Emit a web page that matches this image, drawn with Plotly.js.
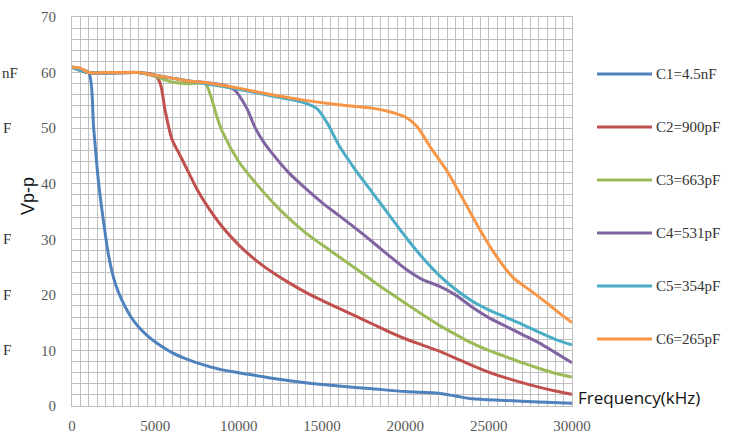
<!DOCTYPE html>
<html><head><meta charset="utf-8">
<script src="https://cdn.plot.ly/plotly-3.0.1.min.js"></script>
<style>html,body{margin:0;padding:0;background:#fff}</style>
</head><body><div id="chart" style="width:737px;height:434px"></div>
<script>
// ---- data ----
const seriesNames = ["C1=4.5nF", "C2=900pF", "C3=663pF", "C4=531pF", "C5=354pF", "C6=265pF"];
const seriesColors = ["#4F81BD", "#C0504D", "#9BBB59", "#8064A2", "#4BACC6", "#F79646"];

const c1x = [0, 500, 1000, 1300, 1600, 1900, 2200, 2600, 3000, 3500, 4000, 4500, 5000, 6000, 7000, 8000, 9000, 10000, 12000, 14000, 16000, 18000, 20000, 22000, 23000, 24000, 26000, 28000, 30000];
const c1y = [61, 60.5, 60, 50, 40, 33, 27, 22, 19, 16.2, 14.2, 12.7, 11.5, 9.6, 8.3, 7.3, 6.5, 6, 5, 4.2, 3.6, 3.1, 2.6, 2.3, 1.8, 1.3, 1, 0.7, 0.5];

const c2x = [0, 1000, 4000, 5000, 5300, 5600, 6000, 6500, 7000, 7500, 8000, 9000, 10000, 11000, 12000, 13000, 14000, 15000, 16000, 17000, 18000, 19000, 20000, 21000, 22000, 23000, 24000, 25000, 26000, 27000, 28000, 29000, 30000];
const c2y = [61, 60, 60, 59.5, 58, 53, 48, 45, 42, 39, 36.5, 32.3, 29, 26.3, 24.1, 22.2, 20.5, 19, 17.6, 16.2, 14.8, 13.4, 12.1, 11, 9.9, 8.6, 7.3, 6.1, 5.1, 4.2, 3.4, 2.7, 2.1];

const c3x = [0, 1000, 4000, 5000, 6000, 7000, 8000, 8300, 8700, 9000, 10000, 11000, 12000, 13000, 14000, 15000, 16000, 17000, 18000, 19000, 20000, 21000, 22000, 23000, 24000, 25000, 26000, 27000, 28000, 29000, 30000];
const c3y = [61, 60, 60, 59.3, 58.3, 58, 58, 56, 52, 49.5, 44, 40.2, 36.8, 33.8, 31.2, 29, 26.9, 24.8, 22.6, 20.5, 18.5, 16.5, 14.6, 12.9, 11.3, 10, 8.9, 7.8, 6.8, 5.9, 5.2];

const c4x = [0, 1000, 4000, 5000, 6000, 7000, 8000, 9000, 9700, 10000, 10500, 11000, 11500, 12000, 13000, 14000, 15000, 16000, 17000, 18000, 19000, 20000, 21000, 22000, 23000, 24000, 25000, 26000, 27000, 28000, 29000, 30000];
const c4y = [61, 60, 60, 59.5, 59, 58.5, 58.2, 57.8, 57, 56, 53.5, 50, 47.5, 45.5, 42, 39.2, 36.6, 34.3, 32, 29.6, 27.1, 24.7, 22.8, 21.6, 20, 17.8, 15.9, 14.4, 12.9, 11.4, 9.6, 7.8];

const c5x = [0, 1000, 4000, 5000, 6000, 8000, 10000, 12000, 14000, 14700, 15300, 16000, 17000, 18000, 19000, 20000, 21000, 22000, 23000, 24000, 25000, 26000, 27000, 28000, 29000, 30000];
const c5y = [61, 60, 60, 59.5, 59, 58, 57, 55.8, 54.5, 53.5, 51, 47, 42.5, 38.5, 34.5, 30.5, 26.8, 23.6, 21, 18.9, 17.3, 16, 14.7, 13.3, 12, 11];

const c6x = [0, 500, 1000, 2000, 3000, 4000, 5000, 6000, 7000, 8000, 9000, 10000, 12000, 14000, 16000, 18000, 19000, 20000, 20700, 21500, 22500, 23500, 24500, 25500, 26500, 27500, 28500, 29000, 30000];
const c6y = [61, 60.8, 60, 60, 60, 60, 59.5, 59, 58.5, 58.2, 57.7, 57.2, 56, 55, 54.2, 53.6, 53, 52, 50.3, 46.6, 42.3, 37, 31.6, 26.8, 23, 20.8, 18.5, 17.3, 15];

const xTickVals = [0, 5000, 10000, 15000, 20000, 25000, 30000];
const yTickVals = [0, 10, 20, 30, 40, 50, 60, 70];
const xTitle = "Frequency(kHz)";
const yTitle = "Vp-p";
const leftFragments = ["nF", "F", "F", "F", "F"];
const leftFragmentLevels = [60, 50, 30, 20, 10];

// ---- build ----
const xs = [c1x, c2x, c3x, c4x, c5x, c6x];
const ys = [c1y, c2y, c3y, c4y, c5y, c6y];

const W = 737, H = 434;
const M = {l: 72, r: 165, t: 17, b: 28};
const pw = W - M.l - M.r, ph = H - M.t - M.b;
const px2paperX = p => (p - M.l) / pw;
const py2paperY = p => (H - M.b - p) / ph;

const traces = xs.map((x, i) => ({
  x: x, y: ys[i], type: "scatter", mode: "lines", name: seriesNames[i],
  line: {color: seriesColors[i], width: 3, shape: "spline", smoothing: 0.8},
  showlegend: false, hoverinfo: "skip"
}));

const serif = "Liberation Serif, Times New Roman, serif";
const gridCol = "#bfbfbf";

const shapes = [];
const annotations = [];
const legendY0 = 74, legendStep = 53;
seriesNames.forEach((n, i) => {
  const yp = py2paperY(legendY0 + i * legendStep);
  shapes.push({type: "line", xref: "paper", yref: "paper", x0: px2paperX(597), x1: px2paperX(652), y0: yp, y1: yp,
    line: {color: seriesColors[i], width: 3}});
  annotations.push({xref: "paper", yref: "paper", x: px2paperX(654), y: yp, xanchor: "left", yanchor: "middle",
    text: n, showarrow: false, font: {family: serif, size: 15, color: "#333"}});
});
annotations.push({xref: "paper", yref: "paper", x: px2paperX(576), y: py2paperY(397), xanchor: "left", yanchor: "middle",
  text: xTitle, showarrow: false, font: {family: "Open Sans, Noto Sans, sans-serif", size: 17, color: "#111"}});
annotations.push({xref: "paper", yref: "paper", x: px2paperX(28), y: py2paperY(196), xanchor: "center", yanchor: "middle",
  text: yTitle, textangle: -90, showarrow: false, font: {family: "Liberation Sans, Arial, sans-serif", size: 18, color: "#111"}});
leftFragments.forEach((t, i) => {
  annotations.push({xref: "paper", yref: "y", x: px2paperX(i === 0 ? 19 : 12), y: leftFragmentLevels[i], xanchor: "right", yanchor: "middle",
    text: t, showarrow: false, borderpad: 0, font: {family: serif, size: 15, color: "#333"}});
});

const layout = {
  width: W, height: H, margin: M,
  paper_bgcolor: "#fff", plot_bgcolor: "#fff",
  showlegend: false,
  xaxis: {range: [0, 30000], tickvals: xTickVals, ticktext: xTickVals.map(String), showgrid: true, gridcolor: gridCol, gridwidth: 1,
    minor: {dtick: 500, showgrid: true, gridcolor: gridCol, gridwidth: 1},
    zeroline: false, showline: true, linecolor: gridCol, mirror: true, ticks: "", ticklabelstandoff: 6,
    tickfont: {family: serif, size: 15, color: "#595959"}, fixedrange: true},
  yaxis: {range: [0, 70], tickvals: yTickVals, ticktext: yTickVals.map(String), showgrid: true, gridcolor: gridCol, gridwidth: 1,
    minor: {dtick: 2, showgrid: true, gridcolor: gridCol, gridwidth: 1},
    zeroline: false, showline: true, linecolor: gridCol, mirror: true, ticks: "", ticklabelstandoff: 12,
    tickfont: {family: serif, size: 15, color: "#595959"}, fixedrange: true},
  shapes: shapes,
  annotations: annotations
};

Plotly.newPlot("chart", traces, layout, {displayModeBar: false, staticPlot: true});
</script></body></html>
